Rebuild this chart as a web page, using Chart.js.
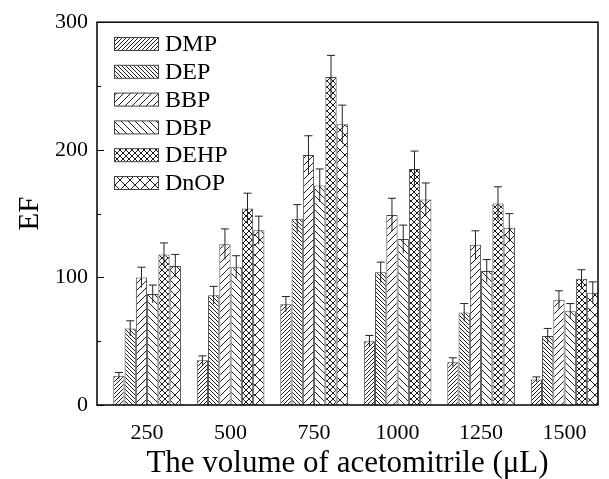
<!DOCTYPE html>
<html>
<head>
<meta charset="utf-8">
<script src="https://cdn.jsdelivr.net/npm/chart.js@4"></script>
<style>
html, body { margin: 0; padding: 0; background: #fff; }
</style>
</head>
<body>
<canvas id="efChart" width="609" height="479"></canvas>
<script>
/* data */
const volumes = [250, 500, 750, 1000, 1250, 1500];
const xTicks = [250, 500, 750, 1000, 1250, 1500];
const yTicks = [0, 100, 200, 300];
const seriesNames = ['DMP', 'DEP', 'BBP', 'DBP', 'DEHP', 'DnOP'];

const dmp = [23, 35, 79, 50, 33.5, 20];
const dep = [60, 86, 146, 104, 72.5, 54];
const bbp = [100, 126, 196, 149, 125.5, 82.5];
const dbp = [87, 108, 172, 130, 105, 73.5];
const dehp = [118, 154, 257, 185, 158, 99];
const dnop = [109, 137, 220, 161, 139, 88];

const dmpErr = [2.5, 3.5, 6, 4.5, 3.5, 2];
const depErr = [6, 7, 11, 8, 7, 6];
const bbpErr = [8, 12, 15, 13, 11, 7];
const dbpErr = [7, 9, 13, 11, 9, 6];
const dehpErr = [9, 12, 17, 14, 13, 7];
const dnopErr = [9, 11, 15, 13, 11, 8.5];

const FONT = "'Liberation Serif', 'Times New Roman', serif";

// hatch fills
function hatch(size, kind) {
    const c = document.createElement('canvas');
    c.width = size; c.height = size;
    const g = c.getContext('2d');
    g.fillStyle = '#fff';
    g.fillRect(0, 0, size, size);
    g.strokeStyle = '#000';
    g.lineWidth = 0.9;
    g.beginPath();
    for (let k = -1; k <= 1; k++) {
        if (kind === '/' || kind === 'x') {
            g.moveTo(k * size, size); g.lineTo(k * size + size, 0);
        }
        if (kind === '\\' || kind === 'x') {
            g.moveTo(k * size, 0); g.lineTo(k * size + size, size);
        }
    }
    g.stroke();
    return g.createPattern(c, 'repeat');
}

const fills = [hatch(4, '/'), hatch(4, '\\'), hatch(7, '/'), hatch(7, '\\'), hatch(6, 'x'), hatch(10, 'x')];
const values = [dmp, dep, bbp, dbp, dehp, dnop];
const errors = [dmpErr, depErr, bbpErr, dbpErr, dehpErr, dnopErr];

const datasets = seriesNames.map((name, i) => ({
    label: name,
    data: volumes.map((v, j) => ({ x: v, y: values[i][j] })),
    errors: errors[i],
    backgroundColor: fills[i],
    borderColor: '#444',
    borderWidth: 1,
    categoryPercentage: 0.81,
    barPercentage: 1
}));

// error bars on top of the bars
const errorBars = {
    id: 'errorBars',
    afterDatasetsDraw(chart) {
        const ctx = chart.ctx;
        const y = chart.scales.y;
        ctx.save();
        ctx.strokeStyle = '#222';
        ctx.lineWidth = 1;
        chart.data.datasets.forEach((ds, i) => {
            chart.getDatasetMeta(i).data.forEach((bar, j) => {
                const v = ds.data[j].y, e = ds.errors[j];
                const top = y.getPixelForValue(v + e);
                const bot = y.getPixelForValue(v - e);
                ctx.beginPath();
                ctx.moveTo(bar.x, bot); ctx.lineTo(bar.x, top);
                ctx.moveTo(bar.x - 4, top); ctx.lineTo(bar.x + 4, top);
                ctx.stroke();
            });
        });
        ctx.restore();
    }
};

// frame, inward ticks and legend
const frame = {
    id: 'frame',
    afterDraw(chart) {
        const ctx = chart.ctx;
        const a = chart.chartArea;
        const y = chart.scales.y;
        ctx.save();
        ctx.strokeStyle = '#000';
        ctx.lineWidth = 1.5;
        ctx.strokeRect(a.left, a.top, a.right - a.left, a.bottom - a.top);
        ctx.lineWidth = 1;
        ctx.beginPath();
        for (let v = 0; v <= 300; v += 50) {
            const py = Math.round(y.getPixelForValue(v)) + 0.5;
            const len = v % 100 === 0 ? 7 : 4;
            ctx.moveTo(a.left, py); ctx.lineTo(a.left + len, py);
        }
        ctx.stroke();

        // legend
        ctx.font = '24px ' + FONT;
        ctx.textBaseline = 'middle';
        chart.data.datasets.forEach((ds, i) => {
            const cy = 44 + i * 27.8;
            ctx.fillStyle = ds.backgroundColor;
            ctx.fillRect(114, cy - 6.5, 44, 13);
            ctx.strokeStyle = '#444';
            ctx.strokeRect(114.5, cy - 6.5, 44, 13);
            ctx.fillStyle = '#000';
            ctx.fillText(ds.label, 165, cy + 1);
        });
        ctx.restore();
    }
};

new Chart(document.getElementById('efChart'), {
    type: 'bar',
    data: { datasets: datasets },
    options: {
        responsive: false,
        animation: false,
        devicePixelRatio: 1,
        layout: { padding: { top: 20, right: 11, left: 0, bottom: 0 } },
        plugins: { legend: { display: false }, tooltip: { enabled: false } },
        scales: {
            x: {
                type: 'linear',
                offset: false,
                min: 100,
                max: 1600,
                grid: { display: false, drawTicks: false },
                border: { display: false },
                afterBuildTicks: s => { s.ticks = xTicks.map(v => ({ value: v })); },
                afterFit: s => { s.height = 74; },
                ticks: { padding: 15, color: '#000', font: { family: FONT, size: 22 }, maxRotation: 0,
                         callback: v => String(v) },
                title: { display: true, text: 'The volume of acetomitrile (\u03bcL)', color: '#000',
                         font: { family: FONT, size: 31, lineHeight: 1 }, padding: { top: 0, bottom: 0 } }
            },
            y: {
                min: 0,
                max: 300,
                grid: { display: false, drawTicks: false },
                border: { display: false },
                afterBuildTicks: s => { s.ticks = yTicks.map(v => ({ value: v })); },
                afterFit: s => { s.width = 97; },
                ticks: { padding: 9, color: '#000', font: { family: FONT, size: 22 },
                         callback: v => String(v) },
                title: { display: true, text: 'EF', color: '#000',
                         font: { family: FONT, size: 29, lineHeight: 1 }, padding: { top: 16, bottom: 0 } }
            }
        }
    },
    plugins: [errorBars, frame]
});
</script>
</body>
</html>
